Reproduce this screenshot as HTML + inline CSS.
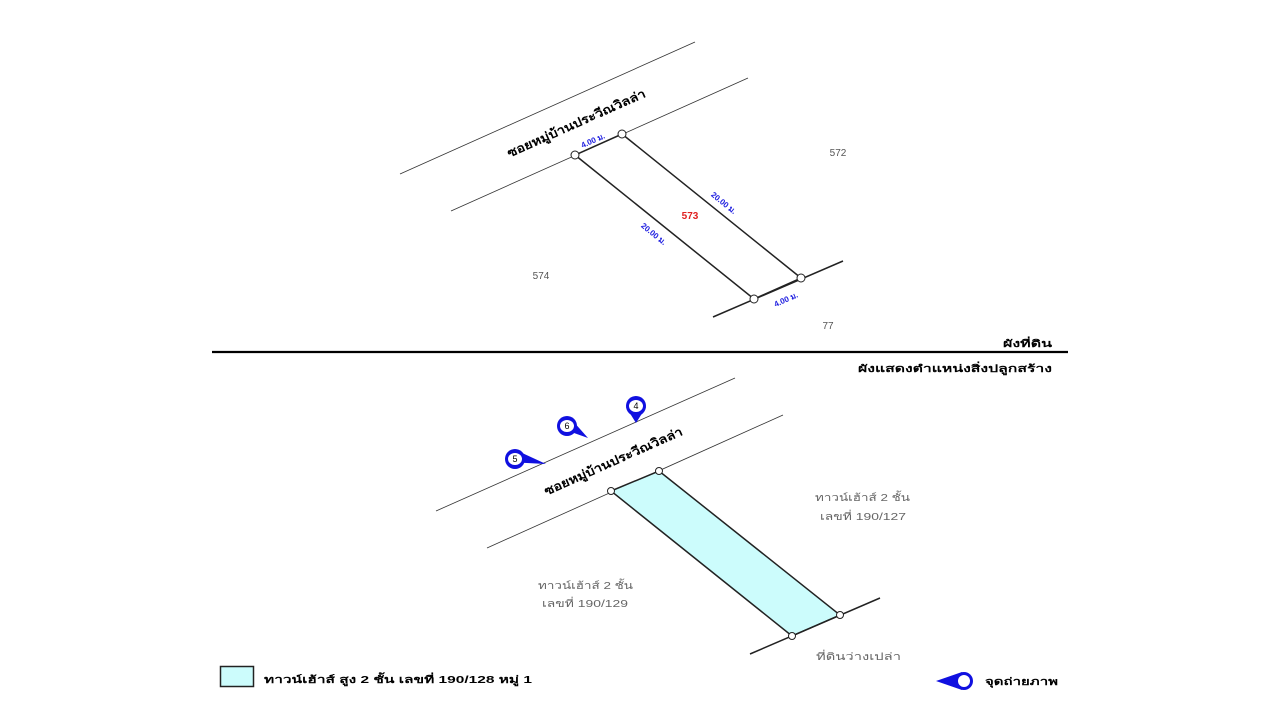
<!DOCTYPE html>
<html><head><meta charset="utf-8"><style>
html,body{margin:0;padding:0;background:#fff;width:1280px;height:720px;overflow:hidden}
svg text{font-family:"Liberation Sans",sans-serif}
</style></head><body>
<svg width="1280" height="720" viewBox="0 0 1280 720" xmlns="http://www.w3.org/2000/svg">
<!-- top -->
<g stroke="#333" stroke-width="0.8">
<line x1="400" y1="174" x2="695" y2="42"/>
<line x1="451" y1="211" x2="748" y2="78"/>
</g>
<polygon points="575,155 622,134 801,278 754,299" fill="none" stroke="#222" stroke-width="1.5"/>
<line x1="713" y1="317" x2="843" y2="261" stroke="#222" stroke-width="1.5"/>
<g fill="#fff" stroke="#222" stroke-width="1"><circle cx="575" cy="155" r="4"/><circle cx="622" cy="134" r="4"/><circle cx="801" cy="278" r="4"/><circle cx="754" cy="299" r="4"/></g>
<text x="578" y="127" font-size="12" font-weight="bold" text-anchor="middle" textLength="150" lengthAdjust="spacingAndGlyphs" transform="rotate(-24 578 127)">ซอยหมู่บ้านประวีณวิลล่า</text>
<text x="594" y="143" font-size="8" font-weight="bold" fill="#2020e0" text-anchor="middle" transform="rotate(-24 594 143)">4.00 ม.</text>
<text x="787" y="302" font-size="8" font-weight="bold" fill="#2020e0" text-anchor="middle" transform="rotate(-24 787 302)">4.00 ม.</text>
<text x="722" y="205" font-size="8" font-weight="bold" fill="#2020e0" text-anchor="middle" transform="rotate(39 722 205)">20.00 ม.</text>
<text x="652" y="236" font-size="8" font-weight="bold" fill="#2020e0" text-anchor="middle" transform="rotate(39 652 236)">20.00 ม.</text>
<text x="690" y="219" font-size="10" font-weight="bold" fill="#e02020" text-anchor="middle">573</text>
<text x="838" y="156" font-size="10" fill="#555" text-anchor="middle">572</text>
<text x="541" y="279" font-size="10" fill="#555" text-anchor="middle">574</text>
<text x="828" y="329" font-size="10" fill="#555" text-anchor="middle">77</text>
<text x="1003" y="347" font-size="10" font-weight="bold" textLength="49" lengthAdjust="spacingAndGlyphs">ผังที่ดิน</text>
<line x1="212" y1="352" x2="1068" y2="352" stroke="#000" stroke-width="2.2"/>
<text x="858" y="372" font-size="10" font-weight="bold" textLength="194" lengthAdjust="spacingAndGlyphs">ผังแสดงตำแหน่งสิ่งปลูกสร้าง</text>
<!-- bottom -->
<g stroke="#333" stroke-width="0.8">
<line x1="436" y1="511" x2="735" y2="378"/>
<line x1="487" y1="548" x2="783" y2="415"/>
</g>
<polygon points="611,491 659,471 840,615 792,636" fill="#ccfcfc" stroke="#222" stroke-width="1.5"/>
<line x1="750" y1="654" x2="880" y2="598" stroke="#222" stroke-width="1.5"/>
<g fill="#fff" stroke="#222" stroke-width="1"><circle cx="611" cy="491" r="3.5"/><circle cx="659" cy="471" r="3.5"/><circle cx="840" cy="615" r="3.5"/><circle cx="792" cy="636" r="3.5"/></g>
<text x="615" y="465" font-size="12" font-weight="bold" text-anchor="middle" textLength="150" lengthAdjust="spacingAndGlyphs" transform="rotate(-24 615 465)">ซอยหมู่บ้านประวีณวิลล่า</text>
<g fill="#1010e0">
<polygon points="626,407 646,407 636,423"/><circle cx="636" cy="406" r="10"/>
<polygon points="560,428 588,438 572,420"/><circle cx="567" cy="426" r="10"/>
<polygon points="508,462 546,464 520,452"/><circle cx="515" cy="459" r="10"/>
</g>
<g fill="#fff"><ellipse cx="636" cy="406" rx="7" ry="6"/><ellipse cx="567" cy="426" rx="7" ry="6"/><ellipse cx="515" cy="459" rx="7" ry="6"/></g>
<g font-size="9" text-anchor="middle" fill="#000"><text x="636" y="409">4</text><text x="567" y="429">6</text><text x="515" y="462">5</text></g>
<g font-size="10" fill="#666" lengthAdjust="spacingAndGlyphs">
<text x="815" y="501" textLength="95" lengthAdjust="spacingAndGlyphs">ทาวน์เฮ้าส์ 2 ชั้น</text><text x="820" y="520" textLength="86" lengthAdjust="spacingAndGlyphs">เลขที่ 190/127</text>
<text x="538" y="589" textLength="95" lengthAdjust="spacingAndGlyphs">ทาวน์เฮ้าส์ 2 ชั้น</text><text x="542" y="607" textLength="86" lengthAdjust="spacingAndGlyphs">เลขที่ 190/129</text>
<text x="816" y="660" textLength="85" lengthAdjust="spacingAndGlyphs">ที่ดินว่างเปล่า</text>
</g>
<rect x="220.5" y="666.5" width="33" height="20" fill="#ccfcfc" stroke="#222" stroke-width="1.5"/>
<text x="264" y="683" font-size="10" font-weight="bold" textLength="268" lengthAdjust="spacingAndGlyphs">ทาวน์เฮ้าส์ สูง 2 ชั้น เลขที่ 190/128 หมู่ 1</text>
<polygon points="936,681 962,672 962,690" fill="#1010e0"/>
<circle cx="964" cy="681" r="9" fill="#1010e0"/><circle cx="964" cy="681" r="6" fill="#fff"/>
<text x="985" y="685" font-size="10" font-weight="bold" textLength="73" lengthAdjust="spacingAndGlyphs">จุดถ่ายภาพ</text>
</svg>
</body></html>
